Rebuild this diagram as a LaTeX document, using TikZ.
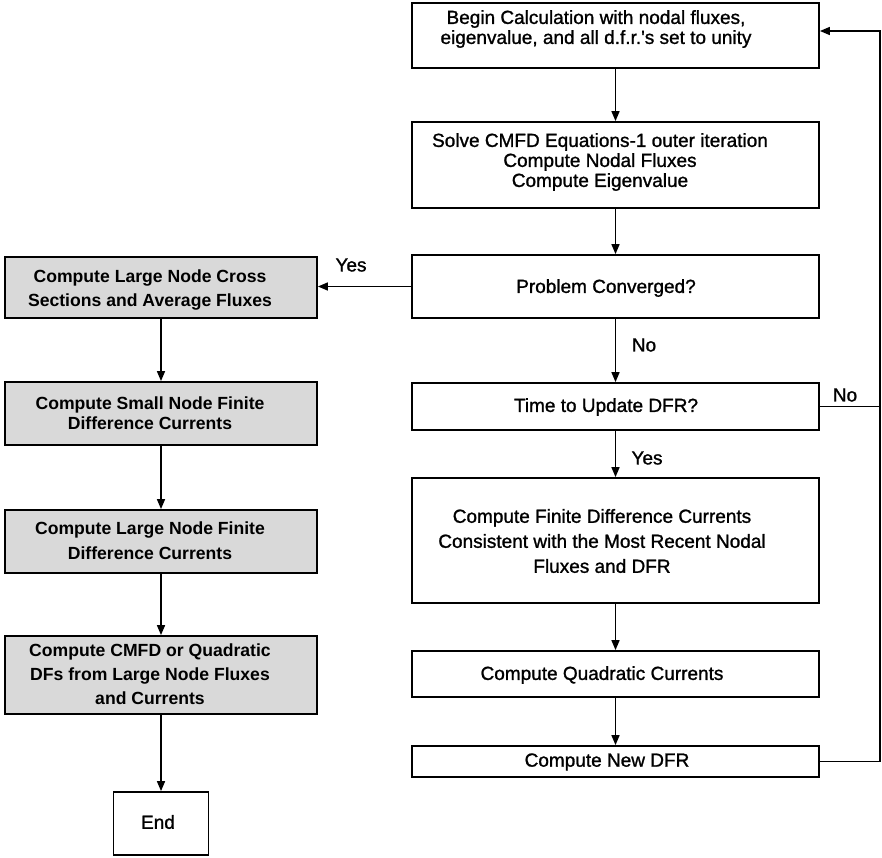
\documentclass[tikz,border=0pt]{standalone}
\usepackage{fontspec}
\setmainfont{Liberation Sans}
\newfontfamily\heavyfont[FakeBold=1.2]{Liberation Sans}
\usetikzlibrary{arrows.meta}
\begin{document}
\begin{tikzpicture}[x=1pt,y=-1pt,
  box/.style={draw=black, line width=1.8pt, inner sep=0pt},
  shadedbox/.style={box, fill=gray!30},
  txt/.style={font=\heavyfont\fontsize{19}{20}\selectfont, align=center, inner sep=0pt},
  btxt/.style={font=\fontsize{17.6}{24}\selectfont\bfseries, align=center, inner sep=0pt},
  flow/.style={line width=1.6pt, -{Triangle[length=10pt,width=8pt]}},
  link/.style={line width=1.6pt},
  lab/.style={font=\heavyfont\fontsize{19}{20}\selectfont, inner sep=0pt}]
\useasboundingbox (0,0) rectangle (882,857);

% main loop (right column)
\node[box, minimum width=407pt, minimum height=65pt]  (b1) at (615.5,35.5) {};
\node[box, minimum width=407pt, minimum height=86pt]  (b2) at (615.5,165) {};
\node[box, minimum width=407pt, minimum height=63pt]  (b3) at (615.5,286.5) {};
\node[box, minimum width=407pt, minimum height=47pt]  (b4) at (615.5,406.5) {};
\node[box, minimum width=407pt, minimum height=125pt] (b5) at (615.5,540.5) {};
\node[box, minimum width=407pt, minimum height=46pt]  (b6) at (615.5,674) {};
\node[box, minimum width=407pt, minimum height=31pt]  (b7) at (615.5,761.5) {};

\node[txt] (t1) at (596,29) {Begin Calculation with nodal fluxes,\\eigenvalue, and all d.f.r.'s set to unity};
\node[txt] (t2) at (600,162) {Solve CMFD Equations-1 outer iteration\\Compute Nodal Fluxes\\Compute Eigenvalue};
\node[txt] (t3) at (606,288) {Problem Converged?};
\node[txt] (t4) at (606,407) {Time to Update DFR?};
\node[txt, font=\heavyfont\fontsize{19}{25}\selectfont] (t5) at (602,541) {Compute Finite Difference Currents\\Consistent with the Most Recent Nodal\\Fluxes and DFR};
\node[txt] (t6) at (602,675) {Compute Quadratic Currents};
\node[txt] (t7) at (607,762) {Compute New DFR};

% converged branch (left column)
\node[shadedbox, minimum width=312pt, minimum height=61pt] (l1) at (161,287.5) {};
\node[shadedbox, minimum width=312pt, minimum height=63pt] (l2) at (161,413.5) {};
\node[shadedbox, minimum width=312pt, minimum height=63pt] (l3) at (161,541.5) {};
\node[shadedbox, minimum width=312pt, minimum height=78pt] (l4) at (161,675) {};
\node[box, minimum width=95pt, minimum height=63pt] (end) at (161,823.5) {};

\node[btxt] (lt1) at (150,290) {Compute Large Node Cross\\Sections and Average Fluxes};
\node[btxt, font=\fontsize{17.6}{20}\selectfont\bfseries] (lt2) at (150,413) {Compute Small Node Finite\\Difference Currents};
\node[btxt, font=\fontsize{17.6}{25}\selectfont\bfseries] (lt3) at (150,540.5) {Compute Large Node Finite\\Difference Currents};
\node[btxt] (lt4) at (150,674) {Compute CMFD or Quadratic\\DFs from Large Node Fluxes\\and Currents};
\node[txt] (endt) at (158,822) {End};

% connectors
\draw[flow] (b1) -- (b2);
\draw[flow] (b2) -- (b3);
\draw[flow] (b3) -- (b4);
\draw[flow] (b4) -- (b5);
\draw[flow] (b5) -- (b6);
\draw[flow] (b6) -- (b7);
\draw[flow] (b3.west) -- (b3.west -| l1.east);
\draw[flow] (l1) -- (l2);
\draw[flow] (l2) -- (l3);
\draw[flow] (l3) -- (l4);
\draw[flow] (l4) -- (end);

\coordinate (fbb) at (880,761.5);
\coordinate (fbt) at (880,31);
\draw[flow] (b7.east) -- (fbb) -- (fbt) -- (fbt -| b1.east);
\draw[link] (b4.east) -- (b4.east -| fbb);

% branch labels
\node[lab] (yes1) at (351,265) {Yes};
\node[lab] (no1) at (644,345) {No};
\node[lab] (yes2) at (647,458) {Yes};
\node[lab] (no2) at (845,395) {No};
\end{tikzpicture}
\end{document}
